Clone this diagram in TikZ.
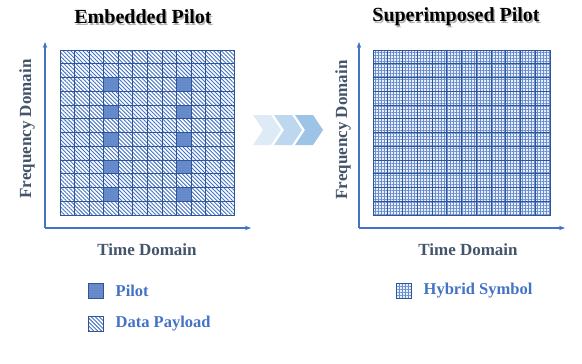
\documentclass[tikz,border=0pt]{standalone}
\usepackage{fontspec}
\setmainfont{Liberation Serif}
\usetikzlibrary{arrows.meta,positioning,patterns.meta}
\definecolor{gridblue}{HTML}{2F5597}
\definecolor{hatchblue}{HTML}{4472C4}
\definecolor{axisgray}{HTML}{44546A}
\definecolor{chevA}{HTML}{DEEBF7}
\definecolor{chevB}{HTML}{BDD7EE}
\definecolor{chevC}{HTML}{9DC3E6}
\begin{document}
\begin{tikzpicture}[x=1pt, y=-1pt,
    title/.style={font=\bfseries\fontsize{20}{24}\selectfont},
    axislabel/.style={font=\bfseries\fontsize{17}{20}\selectfont, text=axisgray},
    keytext/.style={font=\bfseries\fontsize{16.5}{20}\selectfont, text=hatchblue, inner sep=0pt},
    axis/.style={draw=hatchblue, line width=1.4pt, -{Stealth[length=6pt, width=4.5pt]}},
    datacell/.style={draw=gridblue, line width=1pt, preaction={fill=white}, pattern={Lines[angle=-45, distance=2.8pt, line width=0.9pt]}, pattern color=hatchblue},
    pilotcell/.style={draw=gridblue, line width=1pt, preaction={fill=hatchblue!80}, pattern={Dots[distance=1.6pt, radius=0.35pt]}, pattern color=gridblue!80},
    hybridcell/.style={draw=gridblue, line width=1pt, preaction={fill=hatchblue!12}, pattern={Hatch[distance=3pt, line width=0.45pt]}, pattern color=hatchblue!80}]
  \useasboundingbox (0,0) rectangle (582,364);

  % titles
  \node[title, text=black!30] at (144.3,18.3) {Embedded Pilot};
  \node[title] (embtitle) at (143,17) {Embedded Pilot};
  \node[title, text=black!30] at (457.3,18.3) {Superimposed Pilot};
  \node[title] (suptitle) at (456,17) {Superimposed Pilot};

  % embedded pilot grid
  \foreach \i in {0,...,11}
    \foreach \j in {0,...,11}
      \draw[datacell] ({60+\i*14.58},{50+\j*13.75}) rectangle ++(14.58,13.75);
  \foreach \i in {3,8}
    \foreach \j in {2,4,...,10}
      \draw[pilotcell] ({60+\i*14.58},{50+\j*13.75}) rectangle ++(14.58,13.75);

  % superimposed pilot grid
  \foreach \i in {0,...,11}
    \foreach \j in {0,...,11}
      \draw[hybridcell] ({373+\i*14.75},{50+\j*13.75}) rectangle ++(14.75,13.75);

  % axes
  \coordinate (o1) at (45,228);
  \coordinate (f1) at (45,42);
  \coordinate (t1) at (251,228);
  \coordinate (o2) at (359,228);
  \coordinate (f2) at (359,42);
  \coordinate (t2) at (565,228);
  \draw[axis] (o1) -- (f1);
  \draw[axis] (o1) -- (t1);
  \draw[axis] (o2) -- (f2);
  \draw[axis] (o2) -- (t2);
  \node[axislabel, rotate=90] (freq1) at (27,129) {Frequency Domain};
  \node[axislabel] (time1) at (147,250) {Time Domain};
  \node[axislabel, rotate=90] (freq2) at (343,130) {Frequency Domain};
  \node[axislabel] (time2) at (468,250) {Time Domain};

  % chevrons
  \foreach \c/\x in {chevA/253, chevB/274, chevC/295}
    \fill[\c] (\x,115) -- ++(18,0) -- ++(10,15) -- ++(-10,15) -- ++(-18,0) -- ++(10,-15) -- cycle;

  % legend
  \node[pilotcell, minimum size=15pt, inner sep=0pt] (pilotkey) at (95.5,290.5) {};
  \node[keytext, right=12pt of pilotkey] (pilotlabel) {Pilot};
  \node[datacell, minimum size=15pt, inner sep=0pt] (datakey) at (95.5,324) {};
  \node[keytext, right=12pt of datakey] (datalabel) {Data Payload};
  \node[hybridcell, minimum size=15pt, inner sep=0pt] (hybridkey) at (403.5,290.5) {};
  \node[keytext, right=12pt of hybridkey] (hybridlabel) {Hybrid Symbol};
\end{tikzpicture}
\end{document}
